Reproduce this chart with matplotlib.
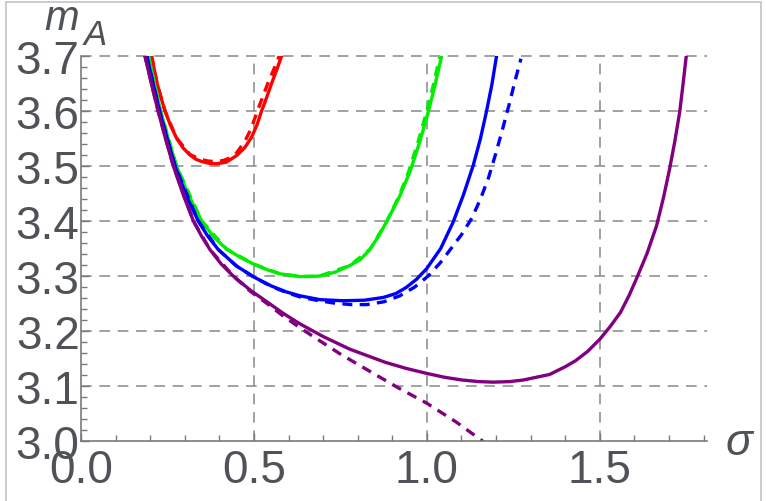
import matplotlib
matplotlib.use('Agg')
import matplotlib.pyplot as plt
from matplotlib.patches import Rectangle
from matplotlib.ticker import MultipleLocator

# curves (sigma, m_A)
red_x = [0.204, 0.212, 0.22, 0.231, 0.243, 0.258, 0.276, 0.295, 0.315, 0.333, 0.35, 0.37, 0.392, 0.42, 0.45,
         0.473, 0.493, 0.509, 0.522, 0.537, 0.551, 0.566, 0.58]
red_y = [3.70, 3.675, 3.65, 3.625, 3.60, 3.575, 3.551, 3.533, 3.52, 3.512, 3.508, 3.505, 3.504, 3.507, 3.519,
         3.533, 3.552, 3.575, 3.60, 3.625, 3.65, 3.675, 3.70]
red_dash_x = [0.204, 0.22, 0.243, 0.276, 0.315, 0.345, 0.368, 0.39, 0.411, 0.432, 0.45, 0.474, 0.492, 0.51,
              0.525, 0.54, 0.557, 0.573]
red_dash_y = [3.70, 3.65, 3.60, 3.551, 3.521, 3.512, 3.509, 3.508, 3.510, 3.515, 3.524, 3.545, 3.568, 3.60,
              3.625, 3.65, 3.675, 3.70]

green_x = [0.195, 0.213, 0.23, 0.253, 0.276, 0.31, 0.349, 0.385, 0.421, 0.46, 0.498, 0.54, 0.575, 0.633, 0.665,
           0.69, 0.735, 0.777, 0.808, 0.835, 0.86, 0.883, 0.92, 0.951, 0.98, 1.004, 1.024, 1.042]
green_y = [3.70, 3.648, 3.60, 3.548, 3.50, 3.448, 3.40, 3.37, 3.349, 3.334, 3.322, 3.311, 3.304, 3.299, 3.299,
           3.30, 3.307, 3.319, 3.33, 3.348, 3.372, 3.398, 3.443, 3.489, 3.545, 3.598, 3.648, 3.698]
green_dash_x = [0.195, 0.23, 0.276, 0.349, 0.421, 0.498, 0.575, 0.633, 0.69, 0.777, 0.835, 0.883, 0.918, 0.947,
                0.975, 0.999, 1.019, 1.037]
green_dash_y = [3.70, 3.60, 3.50, 3.40, 3.349, 3.322, 3.304, 3.299, 3.30, 3.319, 3.348, 3.398, 3.443, 3.489,
                3.545, 3.598, 3.648, 3.698]

blue_x = [0.19, 0.209, 0.227, 0.25, 0.272, 0.305, 0.339, 0.367, 0.397, 0.45, 0.50, 0.55, 0.594, 0.633, 0.691,
          0.758, 0.82, 0.874, 0.91, 0.94, 0.97, 0.999, 1.04, 1.076, 1.106, 1.134, 1.155, 1.172, 1.188, 1.201]
blue_y = [3.70, 3.648, 3.60, 3.548, 3.50, 3.445, 3.40, 3.372, 3.348, 3.318, 3.298, 3.282, 3.271, 3.264, 3.257,
          3.255, 3.256, 3.261, 3.268, 3.279, 3.294, 3.313, 3.35, 3.398, 3.448, 3.501, 3.55, 3.598, 3.648, 3.698]
blue_dash_x = [0.19, 0.227, 0.272, 0.339, 0.397, 0.45, 0.50, 0.55, 0.594, 0.633, 0.68, 0.729, 0.78, 0.826, 0.875,
               0.922, 0.965, 1.004, 1.04, 1.07, 1.10, 1.13, 1.155, 1.178, 1.198, 1.218, 1.238, 1.255, 1.272]
blue_dash_y = [3.70, 3.60, 3.50, 3.40, 3.348, 3.318, 3.298, 3.281, 3.27, 3.262, 3.256, 3.251, 3.248, 3.248, 3.253,
               3.264, 3.28, 3.30, 3.325, 3.35, 3.375, 3.405, 3.44, 3.478, 3.52, 3.565, 3.612, 3.655, 3.695]

purple_x = [0.185, 0.204, 0.223, 0.245, 0.267, 0.296, 0.325, 0.349, 0.373, 0.405, 0.44, 0.49, 0.54, 0.585, 0.633,
            0.70, 0.777, 0.88, 0.94, 0.999, 1.05, 1.10, 1.15, 1.192, 1.24, 1.28, 1.355, 1.40, 1.43, 1.465, 1.50,
            1.53, 1.56, 1.585, 1.606, 1.636, 1.664, 1.684, 1.702, 1.717, 1.731, 1.741, 1.75]
purple_y = [3.70, 3.648, 3.60, 3.548, 3.50, 3.447, 3.40, 3.372, 3.348, 3.322, 3.30, 3.274, 3.252, 3.232, 3.213,
            3.19, 3.167, 3.143, 3.132, 3.123, 3.116, 3.111, 3.108, 3.107, 3.108, 3.111, 3.121, 3.135, 3.146, 3.163,
            3.185, 3.208, 3.234, 3.265, 3.295, 3.34, 3.391, 3.442, 3.495, 3.545, 3.598, 3.65, 3.70]
purple_dash_x = [0.185, 0.223, 0.267, 0.325, 0.373, 0.44, 0.49, 0.54, 0.585, 0.633, 0.681, 0.75, 0.826, 0.922,
                 0.999, 1.086, 1.163, 1.19]
purple_dash_y = [3.70, 3.60, 3.50, 3.40, 3.348, 3.30, 3.272, 3.249, 3.227, 3.206, 3.186, 3.158, 3.13, 3.095,
                 3.069, 3.034, 2.999, 2.986]

fig = plt.figure(figsize=(7.66, 5.02), dpi=100)
ax = fig.add_axes([81 / 766, 60 / 502, 626 / 766, 385 / 502])

lw = 2.4
dash = (0, (3.0, 2.2))
ax.plot(red_x, red_y, color='#ff0000', lw=lw)
ax.plot(red_dash_x, red_dash_y, color='#ff0000', lw=lw, linestyle=dash)
ax.plot(green_dash_x, green_dash_y, color='#00ee00', lw=lw, linestyle=dash)
ax.plot(green_x, green_y, color='#00ee00', lw=lw)
ax.plot(blue_x, blue_y, color='#0000ff', lw=lw)
ax.plot(blue_dash_x, blue_dash_y, color='#0000ff', lw=lw, linestyle=dash)
ax.plot(purple_x, purple_y, color='#800080', lw=lw)
ax.plot(purple_dash_x, purple_dash_y, color='#800080', lw=lw, linestyle=dash)

ax.set_xlim(0, 1.81)
ax.set_ylim(3.0, 3.7)

# dashed grid
for gx in [0.5, 1.0, 1.5]:
    ax.axvline(gx, color='#888888', lw=1.1, linestyle=(0, (7, 5)), zorder=0)
for gy in [3.1, 3.2, 3.3, 3.4, 3.5, 3.6, 3.7]:
    ax.axhline(gy, color='#888888', lw=1.1, linestyle=(0, (7, 5)), zorder=0, clip_on=False)

for s in ['top', 'right']:
    ax.spines[s].set_visible(False)
for s in ['left', 'bottom']:
    ax.spines[s].set_color('#7a7a7a')
    ax.spines[s].set_linewidth(1.2)

ax.xaxis.set_major_locator(MultipleLocator(0.5))
ax.xaxis.set_minor_locator(MultipleLocator(0.1))
ax.yaxis.set_major_locator(MultipleLocator(0.1))
ax.yaxis.set_minor_locator(MultipleLocator(0.02))
ax.tick_params(which='both', direction='in', color='#7a7a7a', width=1.0)
ax.tick_params(which='major', length=6)
ax.tick_params(which='minor', length=4)
ax.tick_params(axis='x', which='major', labelsize=33, labelcolor='#4f5358', pad=5)
ax.tick_params(axis='y', which='major', labelsize=33, labelcolor='#4f5358', pad=1)
ax.set_xticks([0.0, 0.5, 1.0, 1.5])
ax.set_xticklabels(['0.0', '0.5', '1.0', '1.5'], fontfamily='Liberation Sans')
ax.set_yticks([3.0, 3.1, 3.2, 3.3, 3.4, 3.5, 3.6, 3.7])
ax.set_yticklabels(['3.0', '3.1', '3.2', '3.3', '3.4', '3.5', '3.6', '3.7'], fontfamily='Liberation Sans')

# axis labels
fig.text(44 / 766, 1 - 30 / 502, 'm', fontsize=30, style='italic', color='#4f5358', ha='left', va='baseline',
         family='Liberation Sans')
fig.text(84 / 766, 1 - 45 / 502, 'A', fontsize=25, style='italic', color='#4f5358', ha='left', va='baseline',
         family='Liberation Sans')
fig.text(726 / 766, 1 - 455 / 502, 'σ', fontsize=32, style='italic', color='#4f5358', ha='left', va='baseline',
         family='Liberation Sans')

# screenshot frame
fig.patches.append(Rectangle((6 / 766, -0.1), 755 / 766, 1.1 - 3 / 502, transform=fig.transFigure,
                             fill=False, edgecolor='#c4c4c4', lw=1.2))

fig.savefig('out.png', dpi=100)
